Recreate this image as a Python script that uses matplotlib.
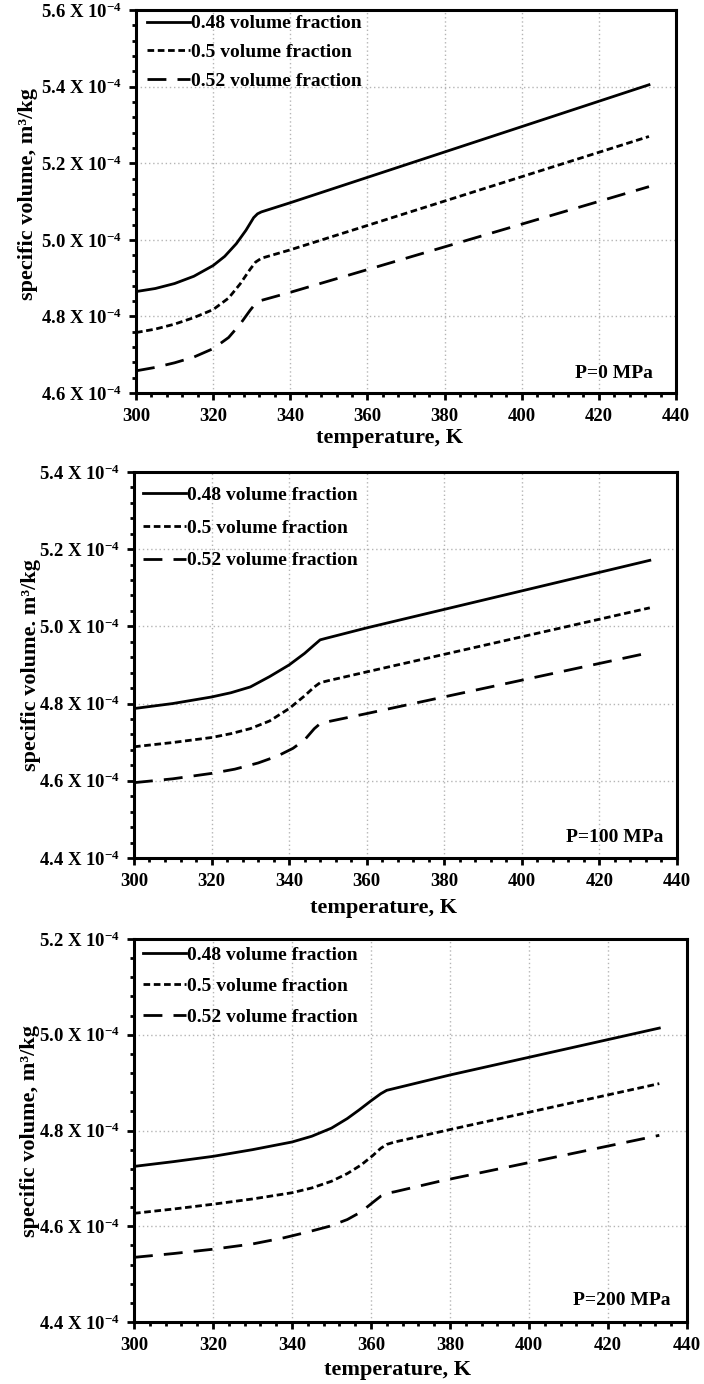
import numpy as np
import matplotlib
matplotlib.use("Agg")
import matplotlib.pyplot as plt
from matplotlib.ticker import MultipleLocator, FuncFormatter

plt.rcParams["font.family"] = ["Liberation Serif", "DejaVu Serif"]
plt.rcParams["font.weight"] = "bold"
plt.rcParams["mathtext.fontset"] = "custom"
plt.rcParams["mathtext.rm"] = "Liberation Serif:bold"
plt.rcParams["mathtext.bf"] = "Liberation Serif:bold"
plt.rcParams["mathtext.it"] = "Liberation Serif:bold:italic"

# specific volume in units of 1e-4 m^3/kg, temperature in K
# P = 0 MPa
t48_p0 = [300, 305, 310, 315, 320, 323, 326, 328.5, 330.5, 331.5, 332.5, 340, 433]
v48_p0 = [4.865, 4.873, 4.886, 4.905, 4.933, 4.957, 4.990, 5.025, 5.058, 5.068, 5.073, 5.097, 5.405]
t50_p0 = [300, 305, 310, 315, 320, 324, 327, 329.5, 331, 332.5, 340, 433]
v50_p0 = [4.758, 4.767, 4.780, 4.797, 4.818, 4.848, 4.885, 4.922, 4.942, 4.952, 4.974, 5.270]
t52_p0 = [300, 305, 310, 315, 320, 324, 327, 329.5, 331, 332.5, 340, 433]
v52_p0 = [4.658, 4.667, 4.679, 4.694, 4.716, 4.745, 4.780, 4.815, 4.834, 4.842, 4.863, 5.139]

# P = 100 MPa
t48_p100 = [300, 310, 320, 325, 330, 335, 340, 344, 346.5, 348, 349.5, 360, 433]
v48_p100 = [4.787, 4.800, 4.817, 4.828, 4.843, 4.870, 4.900, 4.930, 4.952, 4.965, 4.969, 4.996, 5.171]
t50_p100 = [300, 310, 320, 325, 330, 335, 340, 344, 346.5, 348, 350, 360, 433]
v50_p100 = [4.688, 4.699, 4.712, 4.722, 4.735, 4.755, 4.787, 4.820, 4.843, 4.854, 4.859, 4.882, 5.048]
t52_p100 = [300, 310, 320, 326, 332, 337, 341, 344, 346.5, 348, 350, 360, 433]
v52_p100 = [4.595, 4.605, 4.619, 4.630, 4.646, 4.664, 4.684, 4.706, 4.735, 4.748, 4.753, 4.774, 4.932]

# P = 200 MPa
t48_p200 = [300, 310, 320, 330, 340, 345, 350, 354, 357, 360, 362.5, 364, 366, 380, 433]
v48_p200 = [4.725, 4.735, 4.746, 4.760, 4.776, 4.788, 4.805, 4.825, 4.843, 4.862, 4.877, 4.884, 4.888, 4.916, 5.014]
t50_p200 = [300, 310, 320, 330, 340, 345, 350, 354, 357.5, 360.5, 362.5, 364, 366, 380, 433]
v50_p200 = [4.627, 4.636, 4.646, 4.657, 4.670, 4.680, 4.694, 4.710, 4.728, 4.748, 4.763, 4.771, 4.776, 4.802, 4.898]
t52_p200 = [300, 310, 320, 330, 338, 344, 349.5, 354, 357.5, 360.5, 362.5, 364, 366, 377.4, 433]
v52_p200 = [4.535, 4.543, 4.552, 4.563, 4.576, 4.588, 4.600, 4.614, 4.630, 4.650, 4.663, 4.669, 4.672, 4.694, 4.790]

labels = ["0.48 volume fraction", "0.5 volume fraction", "0.52 volume fraction"]
styles = [dict(linestyle="-"), dict(dashes=(2.4, 1.3)), dict(dashes=(6.8, 4.0))]

panels = [
    dict(curves=[(t48_p0, v48_p0), (t50_p0, v50_p0), (t52_p0, v52_p0)],
         ylim=(4.6, 5.6), tag="P=0 MPa", ylabel="specific volume, m³/kg",
         rect=[0.1932, 0.716, 0.767, 0.2767], tagpos=(0.957, 0.03),
         ylab=(-0.2, 0.52), xlab=(0.47, -0.117), leg=(0.0096, 1.003), spacing=0.58),
    dict(curves=[(t48_p100, v48_p100), (t50_p100, v50_p100), (t52_p100, v52_p100)],
         ylim=(4.4, 5.4), tag="P=100 MPa", ylabel="specific volume. m³/kg",
         rect=[0.1903, 0.3801, 0.7713, 0.2789], tagpos=(0.975, 0.03),
         ylab=(-0.19, 0.5), xlab=(0.46, -0.13), leg=(0.0066, 0.977), spacing=0.77),
    dict(curves=[(t48_p200, v48_p200), (t50_p200, v50_p200), (t52_p200, v52_p200)],
         ylim=(4.4, 5.2), tag="P=200 MPa", ylabel="specific volume, m³/kg",
         rect=[0.1903, 0.0448, 0.7855, 0.2767], tagpos=(0.97, 0.035),
         ylab=(-0.188, 0.5), xlab=(0.477, -0.125), leg=(0.0066, 0.996), spacing=0.69),
]


def ytick_fmt(v, pos):
    return f"{v:.1f} X 10" + r"$^{\mathbf{-4}}$"


fig = plt.figure(figsize=(7.04, 13.84), dpi=100)

for p in panels:
    ax = fig.add_axes(p["rect"])
    for (t, v), lab, st in zip(p["curves"], labels, styles):
        ax.plot(t, v, color="black", linewidth=2.0, label=lab, **st)

    ax.set_xlim(300, 440)
    ax.set_ylim(*p["ylim"])
    ax.xaxis.set_major_locator(MultipleLocator(20))
    ax.xaxis.set_minor_locator(MultipleLocator(4))
    ax.yaxis.set_major_locator(MultipleLocator(0.2))
    ax.yaxis.set_minor_locator(MultipleLocator(0.04))
    ax.yaxis.set_major_formatter(FuncFormatter(ytick_fmt))

    ax.grid(True, which="major", color="#b5b5b5", linestyle=(0, (1, 2)), linewidth=1.0)
    ax.set_axisbelow(True)
    for sp in ax.spines.values():
        sp.set_linewidth(2.2)
        sp.set_color("black")

    ax.tick_params(which="major", direction="out", length=5, width=2, labelsize=13.5)
    ax.tick_params(which="minor", direction="out", length=3, width=2)
    ax.tick_params(axis="x", which="major", pad=6)
    ax.tick_params(axis="y", which="major", pad=5)

    ax.set_xlabel("temperature, K", fontsize=16, fontweight="bold")
    ax.xaxis.set_label_coords(*p["xlab"])
    ax.xaxis.label.set_va("center")
    ax.set_ylabel(p["ylabel"], fontsize=16, fontweight="bold")
    ax.yaxis.set_label_coords(*p["ylab"])
    ax.yaxis.label.set_va("center")

    ax.text(p["tagpos"][0], p["tagpos"][1], p["tag"], transform=ax.transAxes,
            ha="right", va="bottom", fontsize=14, fontweight="bold")

    ax.legend(loc="upper left", bbox_to_anchor=p["leg"], frameon=False,
              handlelength=2.2, handletextpad=0.05, labelspacing=p["spacing"],
              borderaxespad=0, borderpad=0.3, prop={"weight": "bold", "size": 14})

fig.savefig("out.png", dpi=100)
